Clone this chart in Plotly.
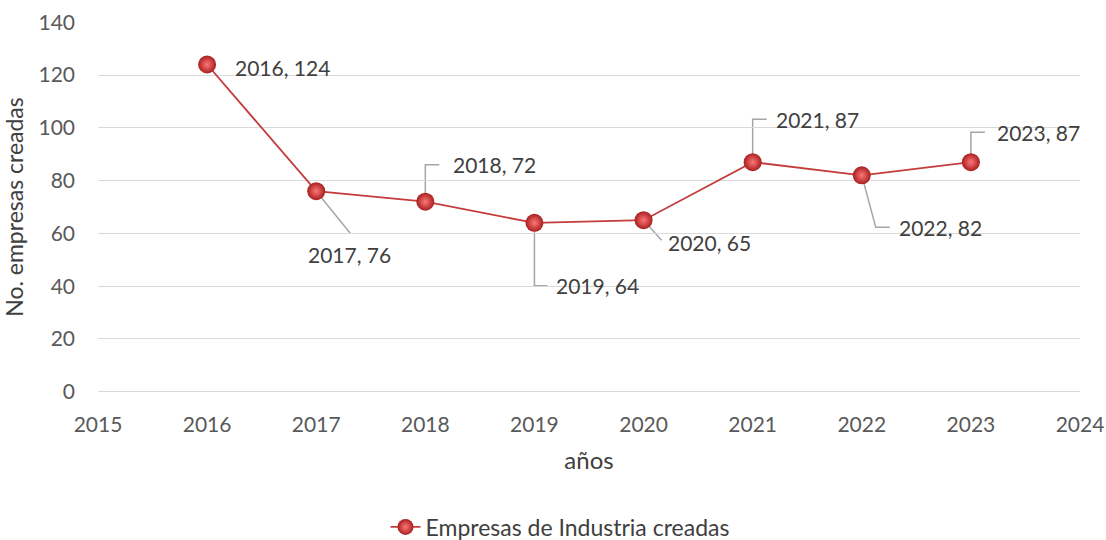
import plotly.graph_objects as go

years = [2016, 2017, 2018, 2019, 2020, 2021, 2022, 2023]
empresas = [124, 76, 72, 64, 65, 87, 82, 87]
series_name = "Empresas de Industria creadas"
x_title = "años"
y_title = "No. empresas creadas"

# label placement (pixel offsets from point, y positive up) and leader paths
label_offsets = [(26, -3), (-10, -63), (26, 37), (20, -63), (22, -22), (21, 43), (35, -52), (24, 30)]
leader_paths = [None, "M0,0 L34,-42", "M0,0 L0,37 L14,37", "M0,0 L0,-63 L13,-63",
                "M0,0 L18,-20", "M0,0 L0,43 L14,43", "M0,0 L14,-52 L28,-52", "M0,0 L0,30 L14,30"]

FONT = "Lato"
TXT = "#404040"
TICK = "#595959"
LINE = "#C43C3C"
GRID = "#D9D9D9"

fig = go.Figure()
fig.add_trace(go.Scatter(
    x=years, y=empresas, mode="lines+markers", name=series_name,
    line=dict(color=LINE, width=1.8),
    marker=dict(size=18, color="#A81F1F",
                gradient=dict(type="radial", color="#FF7676"),
                line=dict(width=0)),
))

for xv, yv, (dx, dy), path in zip(years, empresas, label_offsets, leader_paths):
    if path:
        fig.add_shape(type="path", xref="x", yref="y", xsizemode="pixel", ysizemode="pixel",
                      xanchor=xv, yanchor=yv, path=path,
                      line=dict(color="#A6A6A6", width=1.5), layer="below")
    fig.add_annotation(x=xv, y=yv, xref="x", yref="y", text=f"{xv}, {yv}",
                       showarrow=False, xanchor="left", yanchor="middle",
                       xshift=dx, yshift=dy, font=dict(family=FONT, size=21, color=TXT))

fig.update_layout(
    width=1106, height=540,
    margin=dict(l=98, r=26, t=22, b=148),
    paper_bgcolor="white", plot_bgcolor="white",
    font=dict(family=FONT, size=21, color=TXT),
    showlegend=True,
    legend=dict(orientation="h", x=0.5 + 7 / 1106, xanchor="center", xref="container",
                y=(540 - 527) / 540, yanchor="middle", yref="container",
                font=dict(family=FONT, size=23, color=TXT)),
    xaxis=dict(range=[2015, 2024], dtick=1, tick0=2015, showgrid=False, zeroline=False,
               showline=False, ticks="", automargin=False, ticklabelstandoff=18,
               title=dict(text=x_title, standoff=17,
                          font=dict(family=FONT, size=24, color=TXT)),
               tickfont=dict(family=FONT, size=21, color=TICK)),
    yaxis=dict(range=[-0.1, 140.1], dtick=20, tick0=0, showgrid=True, gridcolor=GRID, gridwidth=1.3,
               zeroline=True, zerolinecolor=GRID, zerolinewidth=1.3,
               showline=False, ticks="", automargin=False, ticklabelstandoff=22,
               title=dict(text=y_title, standoff=12, font=dict(family=FONT, size=23, color=TXT)),
               tickfont=dict(family=FONT, size=21, color=TICK)),
)

fig.write_html("out.html", config={"displayModeBar": False},
               post_script="document.body.style.margin='0';document.body.style.overflow='hidden';")
